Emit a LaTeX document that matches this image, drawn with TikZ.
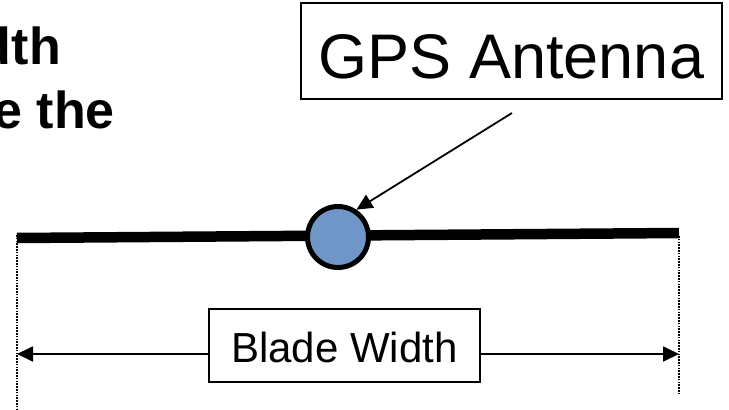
\documentclass[tikz,border=0pt]{standalone}
\usepackage{fontspec}
\setmainfont{Liberation Sans}
\usetikzlibrary{arrows.meta}
\definecolor{antblue}{RGB}{112,150,200}
\tikzset{
  labelbox/.style={draw=black, line width=1.5pt, inner sep=0pt},
  dimline/.style={line width=1.8pt, -{Triangle[length=16pt,width=15pt]}},
  guideline/.style={line width=1.5pt, dash pattern=on 1.5pt off 1.3pt},
  boldtext/.style={font=\fontsize{52}{60}\selectfont\bfseries, inner sep=0pt, anchor=base east}
}
\begin{document}
\begin{tikzpicture}[x=1pt,y=-1pt]
\useasboundingbox (0,0) rectangle (729,410);
\clip (0,0) rectangle (729,410);
% partial text at top left
\node[boldtext] (t1) at (61,64) {dth};
\node[boldtext] (t2) at (115,128) {e the};
% guide lines
\coordinate (gl1) at (17,235);
\coordinate (gl2) at (17,412);
\coordinate (gr1) at (679,236);
\coordinate (gr2) at (679,393);
\draw[guideline] (gl1) -- (gl2);
\draw[guideline] (gr1) -- (gr2);
% blade
\coordinate (bl) at (17,238);
\coordinate (br) at (679,233);
\draw[line width=10.5pt] (bl) -- (br);
% antenna
\node[circle, draw=black, fill=antblue, line width=5pt, minimum size=61pt, inner sep=0pt] (ant) at (338,237) {};
% GPS label
\node[labelbox, minimum width=421pt, minimum height=96pt, text height=54pt, text depth=0pt,
      font=\fontsize{63}{70}\selectfont] (gps) at (511.5,51) {GPS Antenna};
\coordinate (as) at (512,113);
\draw[dimline] (as) -- (ant.56);
% blade width label
\node[labelbox, minimum width=271pt, minimum height=73pt, text height=33pt, text depth=0pt,
      font=\fontsize{42}{48}\selectfont] (bw) at (344.5,345.5) {Blade Width};
\coordinate (al) at (17,354);
\coordinate (ar) at (679,354);
\draw[dimline] (bw.west |- al) -- (al);
\draw[dimline] (bw.east |- ar) -- (ar);
\end{tikzpicture}
\end{document}
